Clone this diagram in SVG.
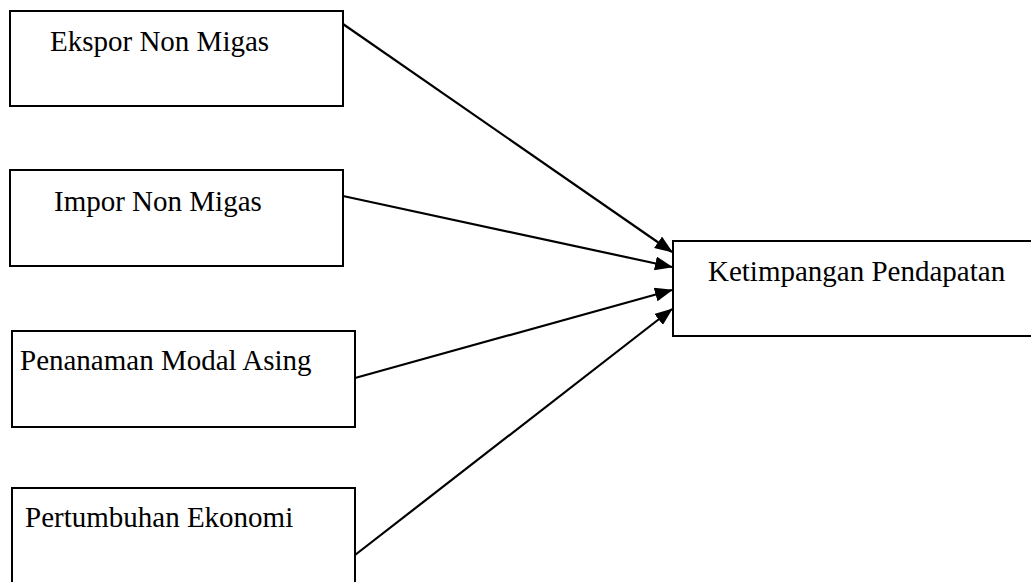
<svg xmlns="http://www.w3.org/2000/svg" width="1031" height="582" viewBox="0 0 1031 582">
<style>
.box{fill:#fff;stroke:#000;stroke-width:2}
.lbl{font-family:"Liberation Serif","Times New Roman",serif;font-size:29px;fill:#000}
.conn{stroke:#000;stroke-width:2.2;fill:none}
</style>
<defs>
<marker id="ah" markerUnits="userSpaceOnUse" markerWidth="18" markerHeight="14" refX="17" refY="7" orient="auto">
<path d="M0,0 L18,7 L0,14 Z" fill="#000"/>
</marker>
</defs>
<rect width="1031" height="582" fill="#fff"/>
<g id="n-ekspor"><rect class="box" x="10" y="11" width="333" height="95"/><text class="lbl" x="50" y="51">Ekspor Non Migas</text></g>
<g id="n-impor"><rect class="box" x="10" y="170" width="333" height="96"/><text class="lbl" x="54" y="211">Impor Non Migas</text></g>
<g id="n-pma"><rect class="box" x="12" y="331" width="343" height="96"/><text class="lbl" x="20" y="370">Penanaman Modal Asing</text></g>
<g id="n-pertumbuhan"><rect class="box" x="12" y="488" width="343" height="110"/><text class="lbl" x="25" y="527">Pertumbuhan Ekonomi</text></g>
<g id="n-ketimpangan"><rect class="box" x="673" y="241" width="380" height="95"/><text class="lbl" x="708" y="281">Ketimpangan Pendapatan</text></g>
<g id="connectors">
<line class="conn" x1="343" y1="24" x2="672" y2="252" marker-end="url(#ah)"/>
<line class="conn" x1="343" y1="196" x2="672" y2="267" marker-end="url(#ah)"/>
<line class="conn" x1="355" y1="378" x2="672" y2="290" marker-end="url(#ah)"/>
<line class="conn" x1="355" y1="555" x2="672" y2="309" marker-end="url(#ah)"/>
</g>
</svg>
